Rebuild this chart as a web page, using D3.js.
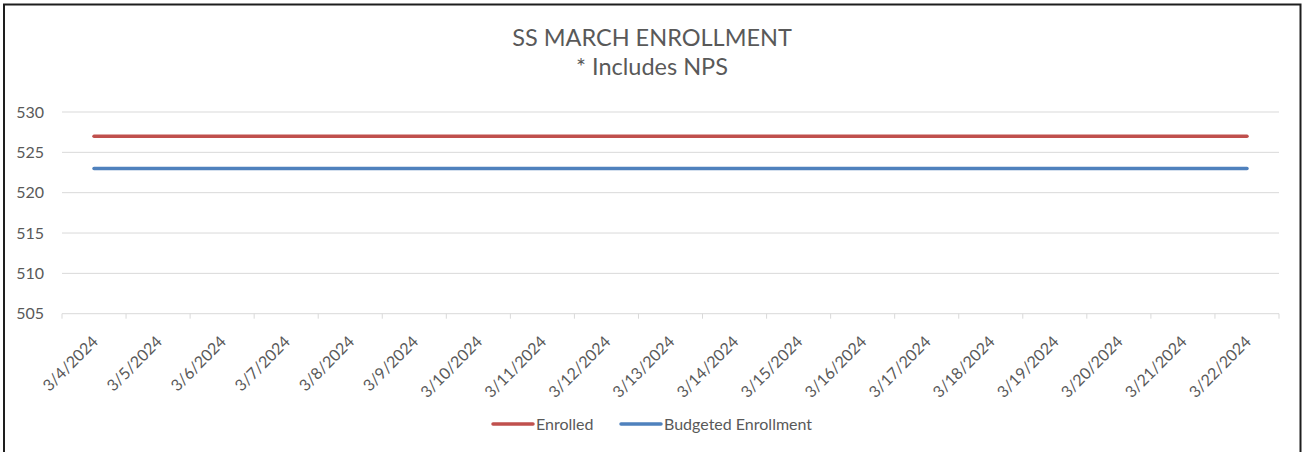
<!DOCTYPE html>
<html>
<head>
<meta charset="utf-8">
<script src="https://cdn.jsdelivr.net/npm/d3@7"></script>
<style>
  body { margin: 0; background: #fff; }
  text { font-family: Lato, "Open Sans", sans-serif; fill: #595959; }
</style>
</head>
<body>
<div id="main"></div>
<script>
const ctx = {
    w: 1306,
    h: 452,
};

// data
const dates = ["3/4/2024", "3/5/2024", "3/6/2024", "3/7/2024", "3/8/2024", "3/9/2024",
               "3/10/2024", "3/11/2024", "3/12/2024", "3/13/2024", "3/14/2024", "3/15/2024",
               "3/16/2024", "3/17/2024", "3/18/2024", "3/19/2024", "3/20/2024", "3/21/2024",
               "3/22/2024"];
const enrolled = [527, 527, 527, 527, 527, 527, 527, 527, 527, 527, 527, 527, 527, 527, 527, 527, 527, 527, 527];
const budgeted = [523, 523, 523, 523, 523, 523, 523, 523, 523, 523, 523, 523, 523, 523, 523, 523, 523, 523, 523];
const yTicks = [505, 510, 515, 520, 525, 530];
const seriesNames = ["Enrolled", "Budgeted Enrollment"];
const seriesColors = ["#C0504D", "#4F81BD"];

function createViz() {
    let svg = d3.select("#main").append("svg")
        .attr("width", ctx.w)
        .attr("height", ctx.h);

    // chart border
    svg.append("rect")
        .attr("x", 4).attr("y", 4.5)
        .attr("width", 1296.5).attr("height", 470)
        .attr("fill", "none")
        .attr("stroke", "#1e1e1e")
        .attr("stroke-width", 2);

    const plot = {left: 62, right: 1279, top: 112, bottom: 313.7};

    let x = d3.scaleBand().domain(dates).range([plot.left, plot.right]);
    let y = d3.scaleLinear().domain([505, 530]).range([plot.bottom, plot.top]);

    // gridlines
    svg.append("g").selectAll("line")
        .data(yTicks.filter(d => d !== 505))
        .enter().append("line")
        .attr("x1", plot.left).attr("x2", plot.right)
        .attr("y1", d => y(d)).attr("y2", d => y(d))
        .attr("stroke", "#d9d9d9")
        .attr("stroke-width", 1);

    // x axis
    let xAxis = svg.append("g")
        .attr("transform", `translate(0,${plot.bottom})`);
    xAxis.append("line")
        .attr("x1", plot.left).attr("x2", plot.right)
        .attr("stroke", "#d9d9d9");
    let tickPos = dates.map(d => x(d)).concat([plot.right]);
    xAxis.selectAll(".tick")
        .data(tickPos)
        .enter().append("line")
        .attr("x1", d => d).attr("x2", d => d)
        .attr("y1", 0).attr("y2", 5)
        .attr("stroke", "#d9d9d9");
    xAxis.selectAll("text")
        .data(dates)
        .enter().append("text")
        .attr("text-anchor", "end")
        .attr("font-size", 16)
        .attr("transform", d => `translate(${x(d) + x.bandwidth() / 2 + 5},${29}) rotate(-45)`)
        .text(d => d);

    // y axis labels
    svg.append("g").selectAll("text")
        .data(yTicks)
        .enter().append("text")
        .attr("x", 44)
        .attr("y", d => y(d))
        .attr("dy", "0.35em")
        .attr("text-anchor", "end")
        .attr("font-size", 16)
        .text(d => d);

    // lines
    let line = d3.line()
        .x((d, i) => x(dates[i]) + x.bandwidth() / 2)
        .y(d => y(d));
    [enrolled, budgeted].forEach((s, i) => {
        svg.append("path")
            .datum(s)
            .attr("d", line)
            .attr("fill", "none")
            .attr("stroke", seriesColors[i])
            .attr("stroke-width", 3.5)
            .attr("stroke-linecap", "round");
    });

    // title
    svg.append("text")
        .attr("x", 652).attr("y", 46)
        .attr("text-anchor", "middle")
        .attr("font-size", 23.5)
        .text("SS MARCH ENROLLMENT");
    svg.append("text")
        .attr("x", 652).attr("y", 75)
        .attr("text-anchor", "middle")
        .attr("font-size", 23.5)
        .text("* Includes NPS");

    // legend
    let legendX = [493, 621];
    let lg = svg.append("g").selectAll("g")
        .data(seriesNames)
        .enter().append("g")
        .attr("transform", (d, i) => `translate(${legendX[i]},424)`);
    lg.append("line")
        .attr("x1", 0).attr("x2", 40)
        .attr("stroke", (d, i) => seriesColors[i])
        .attr("stroke-width", 3.5)
        .attr("stroke-linecap", "round");
    lg.append("text")
        .attr("x", 43)
        .attr("dy", "0.35em")
        .attr("font-size", 16)
        .text(d => d);
}

createViz();
</script>
</body>
</html>
